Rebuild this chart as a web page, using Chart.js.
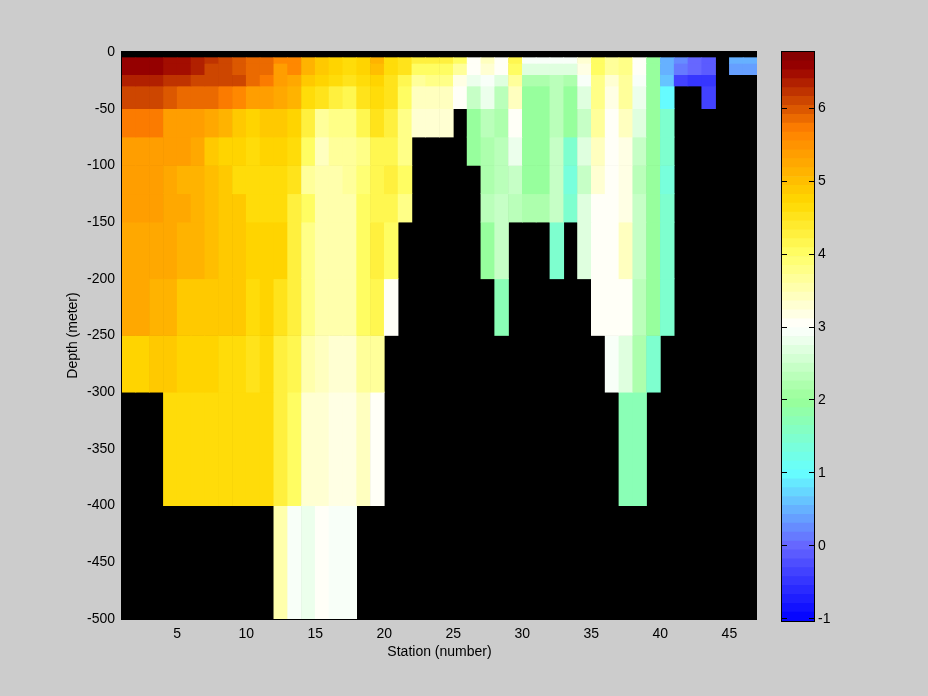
<!DOCTYPE html>
<html lang="en">
<head>
  <meta charset="UTF-8">
  <title>Station depth section</title>
  <style>
    body { margin: 0; background: #cccccc; }
    canvas { position: absolute; left: 0; top: 0; }
  </style>
  <script src="https://cdn.jsdelivr.net/npm/chart.js"></script>
</head>
<body>
  <canvas id="section" width="928" height="696"></canvas>
  <canvas id="colorbar" width="928" height="696"></canvas>
  <script>
    const _ = null; // no data: shows the black background

    // left edge of each column
    const stations = [1,2,3,4,5,6,7,8,9,10,11,12,13,14,15,16,17,18,19,20,21,22,23,24,25,26,27,28,29,30,31,32,33,34,35,36,37,38,39,40,41,42,43,44,45,46];

    // depth bands in meters, one row of values per band
    const bandTops    = [5,10,20,30,50,75,100,125,150,200,250,300,400];
    const bandBottoms = [10,20,30,50,75,100,125,150,200,250,300,400,500];

    const r5 = [6.6,6.6,6.6,6.44,6.44,6.3,6.25,6.13,6.02,5.91,
      5.83,5.61,5.61,5.14,4.94,4.8,4.6,4.7,5.07,4.6,
      4.53,4.25,4.25,4.25,4.0,3.11,3.44,3.11,4.15,2.93,
      2.93,2.93,2.93,3.33,4.0,3.62,3.78,3.1,1.9,.44,
      .22,0,-.1,_,.55,.55];
    const r10 = [6.6,6.6,6.6,6.44,6.44,6.3,6.13,6.13,6.02,5.91,
      5.83,5.42,5.61,5.14,4.94,4.8,4.6,4.7,5.0,4.6,
      4.5,4.0,4.0,4.0,3.67,3.11,3.33,3.08,4.0,2.67,
      2.67,2.67,2.67,3.22,4.0,3.62,3.78,3.11,2.0,.44,
      .17,-.05,-.17,_,.33,.33];
    const r20 = [6.3,6.3,6.3,6.2,6.2,6.13,6.06,6.06,6.06,5.83,
      5.7,5.42,5.28,4.85,4.8,4.6,4.5,4.6,4.7,4.5,
      4.15,3.67,3.78,3.78,3.22,2.83,2.9,2.67,3.62,2.17,
      2.17,2.33,2.17,2.95,3.78,3.33,3.67,2.93,2.0,.67,
      -.41,-.53,-.53,_,_,_];
    const r30 = [6.13,6.13,6.13,6.02,5.91,5.83,5.83,5.7,5.57,5.42,
      5.34,5.25,5.1,4.6,4.5,4.25,4.15,4.53,4.6,4.5,
      4.0,3.44,3.44,3.44,3.1,2.5,2.83,2.33,3.44,2.0,
      2.0,2.33,2.0,2.67,3.78,3.22,3.62,2.83,2.0,1.0,
      _,_,-.41,_,_,_];
    const r50 = [5.7,5.7,5.7,5.42,5.42,5.34,5.23,5.16,4.9,4.75,
      4.85,4.85,4.8,4.25,3.72,3.83,3.83,4.15,4.5,4.25,
      3.83,3.33,3.33,3.33,_,2.0,2.33,2.17,3.1,2.0,
      2.0,2.33,2.0,2.5,3.62,3.07,3.44,2.67,2.0,1.5,
      _,_,_,_,_,_];
    const r75 = [5.42,5.42,5.42,5.34,5.34,5.25,4.94,4.8,4.8,4.63,
      4.7,4.7,4.6,4.0,3.44,3.62,3.62,3.83,4.15,4.15,
      3.83,_,_,_,_,2.0,2.17,2.33,2.83,2.0,
      2.0,2.5,1.5,2.67,3.44,3.07,3.22,2.5,2.0,1.5,
      _,_,_,_,_,_];
    const r100 = [5.42,5.42,5.42,5.28,5.16,5.16,5.0,4.85,4.63,4.63,
      4.63,4.63,4.5,3.67,3.55,3.55,3.67,3.89,4.15,4.25,
      4.0,_,_,_,_,_,2.17,2.33,2.5,2.0,
      2.0,2.5,1.33,2.5,3.33,3.05,3.22,2.33,1.9,1.33,
      _,_,_,_,_,_];
    const r125 = [5.42,5.42,5.42,5.21,5.21,5.1,5.0,4.85,4.85,4.63,
      4.63,4.63,4.25,4.0,3.55,3.55,3.55,4.0,4.15,4.15,
      3.78,_,_,_,_,_,2.33,2.5,2.33,2.17,
      2.17,2.5,1.5,2.67,3.11,3.07,3.22,2.5,2.0,1.5,
      _,_,_,_,_,_];
    const r150 = [5.28,5.28,5.28,5.25,5.07,5.07,5.0,4.85,4.85,4.7,
      4.7,4.7,4.25,3.78,3.55,3.55,3.55,4.0,4.25,4.0,
      _,_,_,_,_,_,2.0,2.5,_,_,
      _,1.5,_,2.67,3.07,3.07,3.44,2.5,2.0,1.5,
      _,_,_,_,_,_];
    const r200 = [5.23,5.23,5.07,5.07,4.94,4.94,4.94,4.85,4.85,4.6,
      4.7,4.55,4.25,3.78,3.55,3.55,3.55,4.0,4.15,3.1,
      _,_,_,_,_,_,_,1.67,_,_,
      _,_,_,_,3.07,3.07,3.1,2.33,2.0,1.5,
      _,_,_,_,_,_];
    const r250 = [4.75,4.75,4.85,4.85,4.75,4.75,4.75,4.63,4.63,4.55,
      4.63,4.25,4.1,3.55,3.44,3.33,3.33,3.67,3.67,_,
      _,_,_,_,_,_,_,_,_,_,
      _,_,_,_,_,2.95,2.67,2.17,1.5,_,
      _,_,_,_,_,_];
    const r300 = [_,_,_,4.63,4.63,4.63,4.63,4.6,4.6,4.6,
      4.6,4.25,4.0,3.33,3.33,3.22,3.22,3.44,3.1,_,
      _,_,_,_,_,_,_,_,_,_,
      _,_,_,_,_,_,1.67,1.67,_,_,
      _,_,_,_,_,_];
    const r400 = [_,_,_,_,_,_,_,_,_,_,
      _,3.55,2.93,2.83,3.07,2.93,2.93,_,_,_,
      _,_,_,_,_,_,_,_,_,_,
      _,_,_,_,_,_,_,_,_,_,
      _,_,_,_,_,_];
    const bandValues = [r5,r10,r20,r30,r50,r75,r100,r125,r150,r200,r250,r300,r400];

    const xTicks = [5,10,15,20,25,30,35,40,45];
    const yTicks = [0,-50,-100,-150,-200,-250,-300,-350,-400,-450,-500];
    const barTicks = [6,5,4,3,2,1,0,-1];

    // colour scale
    const barMin = -1.03, barMax = 6.77, nLevels = 64;
    const anchorValues = [-1.03,0,1,2,3,4,4.7,5.7,6,6.55,6.77];
    const anchorColors = [[0,0,255],[102,102,255],[102,255,255],[153,255,153],[255,255,255],[255,255,102],[255,217,0],[255,128,0],[217,85,0],[153,0,0],[128,0,0]];

    function levelColor(k) {
      const v = barMin + (k + 0.5) * (barMax - barMin) / nLevels;
      let i = 0;
      while (i < anchorValues.length - 2 && v > anchorValues[i + 1]) i++;
      const t = (v - anchorValues[i]) / (anchorValues[i + 1] - anchorValues[i]);
      const c = anchorColors[i].map((a, j) => Math.round(a + (anchorColors[i + 1][j] - a) * t));
      return `rgb(${c[0]},${c[1]},${c[2]})`;
    }
    function valueColor(v) {
      const k = Math.floor((v - barMin) / (barMax - barMin) * nLevels);
      return levelColor(Math.max(0, Math.min(nLevels - 1, k)));
    }

    const font = { family: '"Liberation Sans", Arial, sans-serif', size: 14 };
    const textColor = '#000000';

    const blackPlot = {
      id: 'blackPlot',
      beforeDraw(chart) {
        const a = chart.chartArea, ctx = chart.ctx;
        ctx.fillStyle = '#000000';
        ctx.fillRect(a.left - 1, a.top - 1, a.width + 1, a.height + 2);
      }
    };

    const sectionData = bandValues.map((row, b) => {
      const kept = stations.map((s, i) => ({ s, v: row[i] })).filter(d => d.v !== null);
      return {
        data: kept.map(d => ({ x: d.s + 0.5, y: [-bandTops[b], -bandBottoms[b]] })),
        backgroundColor: kept.map(d => valueColor(d.v)),
        borderWidth: 0,
        grouped: false,
        barPercentage: 1,
        categoryPercentage: 1
      };
    });

    new Chart(document.getElementById('section'), {
      type: 'bar',
      data: { datasets: sectionData },
      plugins: [blackPlot],
      options: {
        responsive: false,
        animation: false,
        events: [],
        layout: { padding: { top: 52, right: 171 } },
        plugins: { legend: { display: false }, tooltip: { enabled: false } },
        scales: {
          x: {
            type: 'linear', min: 1, max: 47, offset: false,
            afterBuildTicks: s => { s.ticks = xTicks.map(value => ({ value })); },
            afterFit: s => { s.height = 77; },
            grid: { display: false, tickLength: 0 },
            border: { display: false },
            ticks: { font, color: textColor, padding: 7, autoSkip: false, maxRotation: 0 },
            title: { display: true, text: 'Station (number)', font, color: textColor, padding: { top: 0, bottom: 35 } }
          },
          y: {
            type: 'linear', min: -500, max: 0,
            afterBuildTicks: s => { s.ticks = yTicks.map(value => ({ value })); },
            afterFit: s => { s.width = 122; },
            grid: { display: false, tickLength: 0 },
            border: { display: false },
            ticks: { font, color: textColor, padding: 7, autoSkip: false },
            title: { display: true, text: 'Depth (meter)', font, color: textColor, padding: { top: 65, bottom: 0 } }
          }
        }
      }
    });

    // colour bar: one floating bar per colour level
    const levelStep = (barMax - barMin) / nLevels;
    const levelData = Array.from({ length: nLevels }, (d, k) => ({
      data: [[barMin + k * levelStep, barMin + (k + 1) * levelStep]],
      backgroundColor: levelColor(k),
      borderWidth: 0,
      grouped: false,
      barPercentage: 1,
      categoryPercentage: 1
    }));

    const barFrame = {
      id: 'barFrame',
      afterDraw(chart) {
        const a = chart.chartArea, ctx = chart.ctx;
        ctx.strokeStyle = '#000000';
        ctx.lineWidth = 1;
        ctx.strokeRect(a.left - 0.5, a.top - 0.5, a.width + 1, a.height + 1);
      }
    };

    new Chart(document.getElementById('colorbar'), {
      type: 'bar',
      data: { labels: [''], datasets: levelData },
      plugins: [barFrame],
      options: {
        responsive: false,
        animation: false,
        events: [],
        layout: { padding: { top: 52, left: 782, bottom: 75 } },
        plugins: { legend: { display: false }, tooltip: { enabled: false } },
        scales: {
          x: { display: false },
          y: {
            position: 'right',
            type: 'linear', min: barMin, max: barMax,
            afterBuildTicks: s => { s.ticks = barTicks.map(value => ({ value })); },
            afterFit: s => { s.width = 114; },
            grid: { drawTicks: false, z: 1, color: '#000000' },
            border: { display: false, dash: [5, 22] },
            ticks: { font, color: textColor, padding: 4, autoSkip: false }
          }
        }
      }
    });
  </script>
</body>
</html>
